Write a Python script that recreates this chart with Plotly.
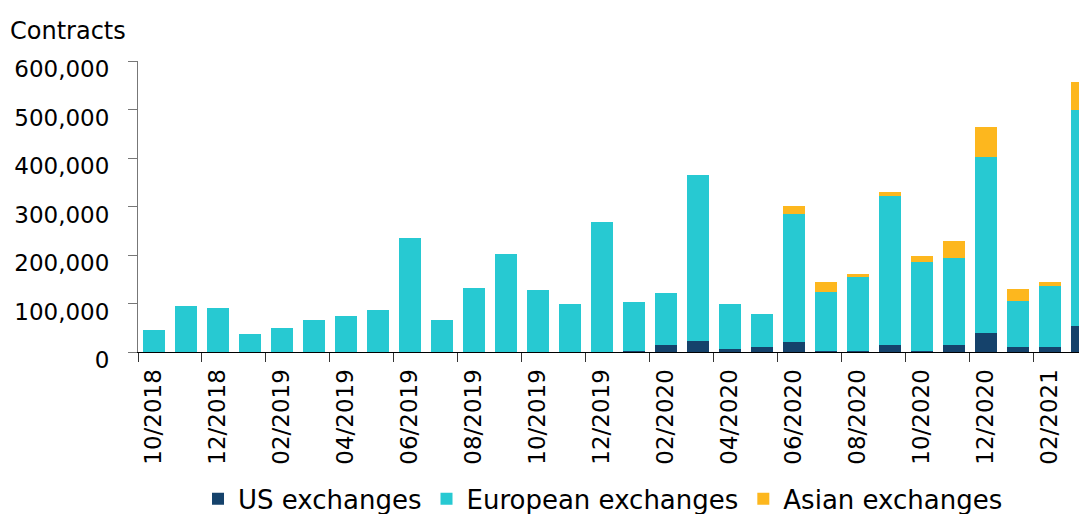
import plotly.graph_objects as go

months = ["10/2018", "11/2018", "12/2018", "01/2019", "02/2019", "03/2019", "04/2019", "05/2019",
          "06/2019", "07/2019", "08/2019", "09/2019", "10/2019", "11/2019", "12/2019", "01/2020",
          "02/2020", "03/2020", "04/2020", "05/2020", "06/2020", "07/2020", "08/2020", "09/2020",
          "10/2020", "11/2020", "12/2020", "01/2021", "02/2021", "03/2021"]

us_exchanges = [0, 0, 0, 0, 0, 0, 0, 0, 0, 0, 0, 0, 0, 0, 0,
                3000, 15000, 22000, 5500, 9500, 21000, 3000, 3000, 14500, 3000,
                14500, 38500, 9500, 9500, 53000]

european_exchanges = [46000, 95700, 90700, 36500, 49000, 65000, 74000, 86000, 236000, 65000,
                      132600, 203000, 128000, 99000, 269000, 101000, 107000, 343000, 93500, 68500,
                      263000, 120000, 152000, 306500, 182600, 180000, 364500, 96500, 126500, 445000]

asian_exchanges = [0, 0, 0, 0, 0, 0, 0, 0, 0, 0, 0, 0, 0, 0, 0, 0, 0, 0, 0, 0,
                   17000, 21000, 6000, 8000, 12400, 33500, 61500, 24000, 8000, 59000]

y_ticks = [0, 100000, 200000, 300000, 400000, 500000, 600000]

FONT = "DejaVu Sans"
x = list(range(len(months)))
label_idx = x[::2]
boundaries = [i - 0.5 for i in x[::2]]

series = [
    ("US exchanges", us_exchanges, "#15426B"),
    ("European exchanges", european_exchanges, "#27C9D2"),
    ("Asian exchanges", asian_exchanges, "#FDB71E"),
]

fig = go.Figure()
for name, vals, col in series:
    fig.add_trace(go.Bar(
        x=x, y=vals, name=name,
        marker=dict(color=col, line=dict(width=0)),
    ))

# page body has an 8px margin, so the figure is sized to end at the window edge
fig.update_layout(
    barmode="stack",
    bargap=0.32,
    width=1079, height=506,
    margin=dict(l=130, r=0, t=53, b=162, autoexpand=False),
    plot_bgcolor="white", paper_bgcolor="white",
    font=dict(family=FONT, size=23, color="black"),
    showlegend=True,
    legend=dict(orientation="h", x=0.49, xanchor="center", y=-0.505, yanchor="middle",
                font=dict(family=FONT, size=26, color="black"), traceorder="normal",
                bgcolor="rgba(0,0,0,0)"),
    annotations=[dict(text="Contracts", xref="paper", yref="paper", x=-0.1365, y=1.103,
                      xanchor="left", yanchor="middle", showarrow=False,
                      font=dict(family=FONT, size=24, color="black"))],
)

fig.update_xaxes(
    range=[-0.5, 29.16], automargin=False,
    tickmode="array", tickvals=label_idx, ticktext=[months[i] for i in label_idx],
    tickangle=-90, ticks="", ticklabelstandoff=7,
    showline=True, linecolor="black", linewidth=1,
    showgrid=False, zeroline=False,
    minor=dict(tickmode="array", tickvals=boundaries, ticks="outside", ticklen=9,
               tickcolor="#333333", tickwidth=1, showgrid=False),
    tickfont=dict(family=FONT, size=23, color="black"),
)

fig.update_yaxes(
    range=[0, 600000], automargin=False,
    tickmode="array", tickvals=y_ticks, tickformat=",",
    ticks="outside", ticklen=9, tickcolor="#777777", tickwidth=1,
    ticklabelstandoff=14, ticklabelshift=8,
    showline=True, linecolor="#777777", linewidth=1,
    showgrid=False, zeroline=False,
    tickfont=dict(family=FONT, size=23, color="black"),
)

fig.write_html("out.html")
